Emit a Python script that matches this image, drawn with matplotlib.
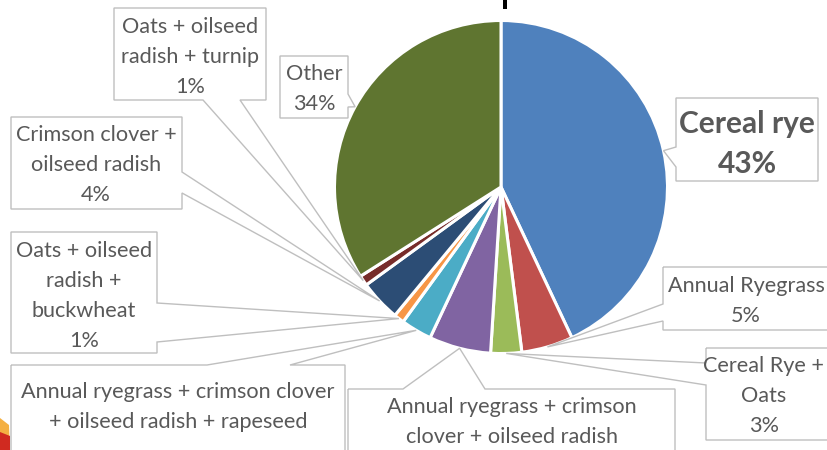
import matplotlib
matplotlib.use("Agg")
import matplotlib.pyplot as plt
from matplotlib.patches import Polygon, Rectangle
import numpy as np

plt.rcParams['font.family'] = ['Lato', 'DejaVu Sans']

# ---- data ----
categories = [
    "Cereal rye",
    "Annual Ryegrass",
    "Cereal Rye +\nOats",
    "Annual ryegrass + crimson\nclover + oilseed radish",
    "Annual ryegrass + crimson clover\n+ oilseed radish + rapeseed",
    "Oats + oilseed\nradish +\nbuckwheat",
    "Crimson clover +\noilseed radish",
    "Oats + oilseed\nradish + turnip",
    "Other",
]
values = [43, 5, 3, 6, 3, 1, 4, 1, 34]
show_pct = [True, True, True, False, False, True, True, True, True]
colors = ["#4F81BD", "#C0504D", "#9BBB59", "#8064A2", "#4BACC6",
          "#F79646", "#2C4D75", "#772C2A", "#5F7530"]

# ---- layout (pixel coords, y down) ----
W, H = 828, 450
CX, CY, R = 501, 187, 166.5
# box (x0, y0, x1, y1), pointer side, pointer base (b0, b1), text anchor (x, y, va)
boxes = [
    ((676, 98, 818, 181), 'left', (147, 167), (747, 144, 'center')),
    ((663, 267, 834, 330), 'left', (304, 321), (746, 301, 'center')),
    ((706, 348, 836, 440), 'left', (363, 385), (764, 396, 'center')),
    ((348, 389, 675, 470), 'top', (403, 485), (512, 397, 'top')),
    ((11, 365, 345, 470), 'top', (207, 290), (178, 382, 'top')),
    ((11, 232, 157, 353), 'right', (303, 342), (84, 296, 'center')),
    ((11, 117, 182, 209), 'right', (172, 193), (96, 165, 'center')),
    ((114, 8, 266, 100), 'bottom', (203, 240), (190, 57, 'center')),
    ((280, 56, 348, 118), 'right', (94, 107), (314, 89, 'center')),
]

TXT = "#595959"
EDGE = "#BFBFBF"

fig = plt.figure(figsize=(W / 100, H / 100), dpi=100)
ax = fig.add_axes([0, 0, 1, 1])


def Y(py):
    return H - py


wedges, _ = ax.pie(values, colors=colors, startangle=90, counterclock=False,
                   center=(CX, Y(CY)), radius=R,
                   wedgeprops=dict(edgecolor='white', linewidth=2.2))
for w in wedges:
    w.set_zorder(1)

ax.set_xlim(0, W)
ax.set_ylim(0, H)
ax.set_aspect('auto')
ax.axis('off')

for i, (w, (box, side, base, tpos)) in enumerate(zip(wedges, boxes)):
    mid = np.deg2rad((w.theta1 + w.theta2) / 2)
    apex = (w.center[0] + w.r * np.cos(mid), w.center[1] + w.r * np.sin(mid))
    x0, y0, x1, y1 = box
    b0, b1 = base
    pts = [(x0, y0)]
    if side == 'top':
        pts += [(b0, y0), 'A', (b1, y0)]
    pts += [(x1, y0)]
    if side == 'right':
        pts += [(x1, b0), 'A', (x1, b1)]
    pts += [(x1, y1)]
    if side == 'bottom':
        pts += [(b1, y1), 'A', (b0, y1)]
    pts += [(x0, y1)]
    if side == 'left':
        pts += [(x0, b1), 'A', (x0, b0)]
    poly = [apex if p == 'A' else (p[0], Y(p[1])) for p in pts]
    ax.add_patch(Rectangle((x0, Y(y1)), x1 - x0, y1 - y0, facecolor='white',
                           edgecolor='none', zorder=2))
    ax.add_patch(Polygon(poly, closed=True, fill=False, edgecolor=EDGE,
                         linewidth=1.0, zorder=3))
    label = categories[i]
    if show_pct[i]:
        label += "\n" + f"{values[i] / sum(values) * 100:.0f}%"
    tx, ty, va = tpos
    if i == 0:
        ax.text(tx, Y(ty), label, ha='center', va=va, color=TXT,
                fontsize=21.5, fontweight='bold', linespacing=1.55, zorder=4)
    else:
        ax.text(tx, Y(ty), label, ha='center', va=va, color=TXT,
                fontsize=15.6, linespacing=1.64, zorder=4)

# small artifacts from the source slide
ax.add_patch(Rectangle((503, Y(9)), 4, 9, facecolor='black', edgecolor='none', zorder=5))
ax.add_patch(Polygon([(0, Y(418)), (9, Y(425)), (10, Y(450)), (0, Y(450))],
                     closed=True, facecolor='#F4B042', edgecolor='none', zorder=5))
ax.add_patch(Polygon([(0, Y(432)), (10, Y(436)), (10, Y(450)), (0, Y(450))],
                     closed=True, facecolor='#D02A20', edgecolor='none', zorder=6))

fig.savefig("out.png", dpi=100)
